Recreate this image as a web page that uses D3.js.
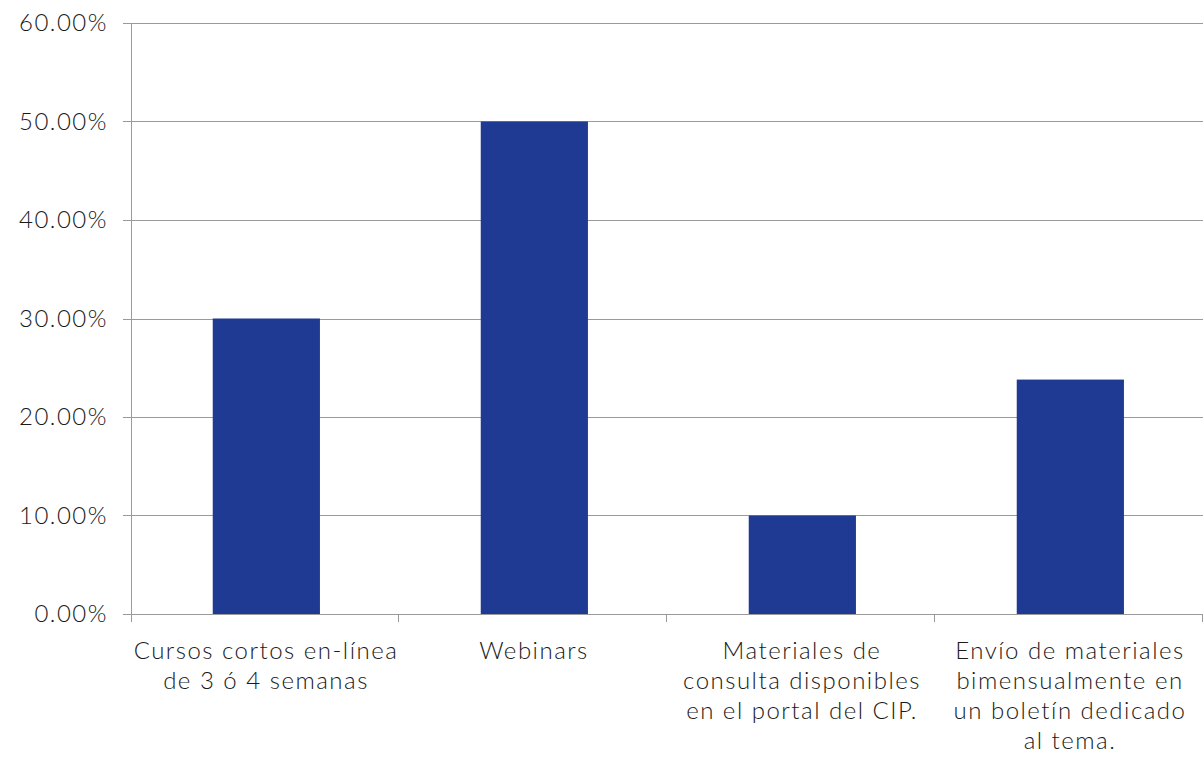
<!DOCTYPE html>
<html>
<head>
<meta charset="utf-8">
<script src="https://cdn.jsdelivr.net/npm/d3@7"></script>
<style>
  body { margin: 0; background: #fff; }
  text { font-family: Lato, "Open Sans", sans-serif; font-weight: 300; fill: #1a1a1a; letter-spacing: 1.5px; }
</style>
</head>
<body>
<div class="barChart"></div>
<script>
// categories (each split into the lines shown under the axis)
var categories = ["Cursos", "Webinars", "Materiales", "Envio"];
var labelLines = [
  ["Cursos cortos en-línea", "de 3 ó 4 semanas"],
  ["Webinars"],
  ["Materiales de", "consulta disponibles", "en el portal del CIP."],
  ["Envío de materiales", "bimensualmente en", "un boletín dedicado", "al tema."]
];
var values = [0.30, 0.50, 0.10, 0.238];
var yTicks = [0, 0.1, 0.2, 0.3, 0.4, 0.5, 0.6];

var margin = {top: 23, right: 0, bottom: 145, left: 131},
    width = 1203 - margin.left - margin.right,
    height = 759 - margin.top - margin.bottom;

var svg = d3.select(".barChart")
  .append("svg")
    .attr("width", width + margin.left + margin.right)
    .attr("height", height + margin.top + margin.bottom)
  .append("g")
    .attr("transform", "translate(" + margin.left + "," + margin.top + ")");

// one band per category, bar takes 40% of it
var x = d3.scaleBand()
  .domain(categories)
  .range([0, width])
  .padding(0);
var barW = x.bandwidth() * 0.4;
var barOff = x.bandwidth() * 0.305;

var y = d3.scaleLinear()
  .domain([0, 0.6])
  .range([height, 0]);

// gridlines
svg.append("g")
  .selectAll("line")
  .data(yTicks)
  .enter()
  .append("line")
    .attr("x1", -8)
    .attr("x2", width)
    .attr("y1", function (d) { return Math.round(y(d)) + 0.5; })
    .attr("y2", function (d) { return Math.round(y(d)) + 0.5; })
    .style("stroke", "#9a9a9a")
    .style("stroke-width", 1);

// y labels
svg.append("g")
  .selectAll("text")
  .data(yTicks)
  .enter()
  .append("text")
    .attr("x", -23)
    .attr("y", function (d) { return y(d); })
    .attr("dy", "0.35em")
    .attr("text-anchor", "end")
    .attr("font-size", "24px")
    .text(function (d) { return (d * 100).toFixed(2) + "%"; });

// bars
svg.append("g")
  .selectAll("rect")
  .data(values)
  .enter()
  .append("rect")
    .attr("x", function (d, i) { return x(categories[i]) + barOff; })
    .attr("y", function (d) { return y(d); })
    .attr("width", barW)
    .attr("height", function (d) { return height - y(d); })
    .style("fill", "#1f3a93");

// left axis line
svg.append("line")
  .attr("x1", 0.5).attr("x2", 0.5)
  .attr("y1", 0).attr("y2", height + 8)
  .style("stroke", "#9a9a9a");

// category boundary ticks
svg.append("g")
  .selectAll("line")
  .data(categories)
  .enter()
  .append("line")
    .attr("x1", function (d) { return Math.round(x(d) + x.bandwidth()) - 0.5; })
    .attr("x2", function (d) { return Math.round(x(d) + x.bandwidth()) - 0.5; })
    .attr("y1", height)
    .attr("y2", height + 8)
    .style("stroke", "#9a9a9a");

// category labels
var lab = svg.append("g")
  .selectAll("text")
  .data(categories)
  .enter()
  .append("text")
    .attr("text-anchor", "middle")
    .attr("font-size", "24px")
    .attr("transform", function (d) {
      return "translate(" + (x(d) + x.bandwidth() / 2 + 1) + "," + (height + 45) + ")";
    });

lab.selectAll("tspan")
  .data(function (d, i) { return labelLines[i]; })
  .enter()
  .append("tspan")
    .attr("x", 0)
    .attr("y", function (d, i) { return i * 30; })
    .text(function (d) { return d; });
</script>
</body>
</html>
